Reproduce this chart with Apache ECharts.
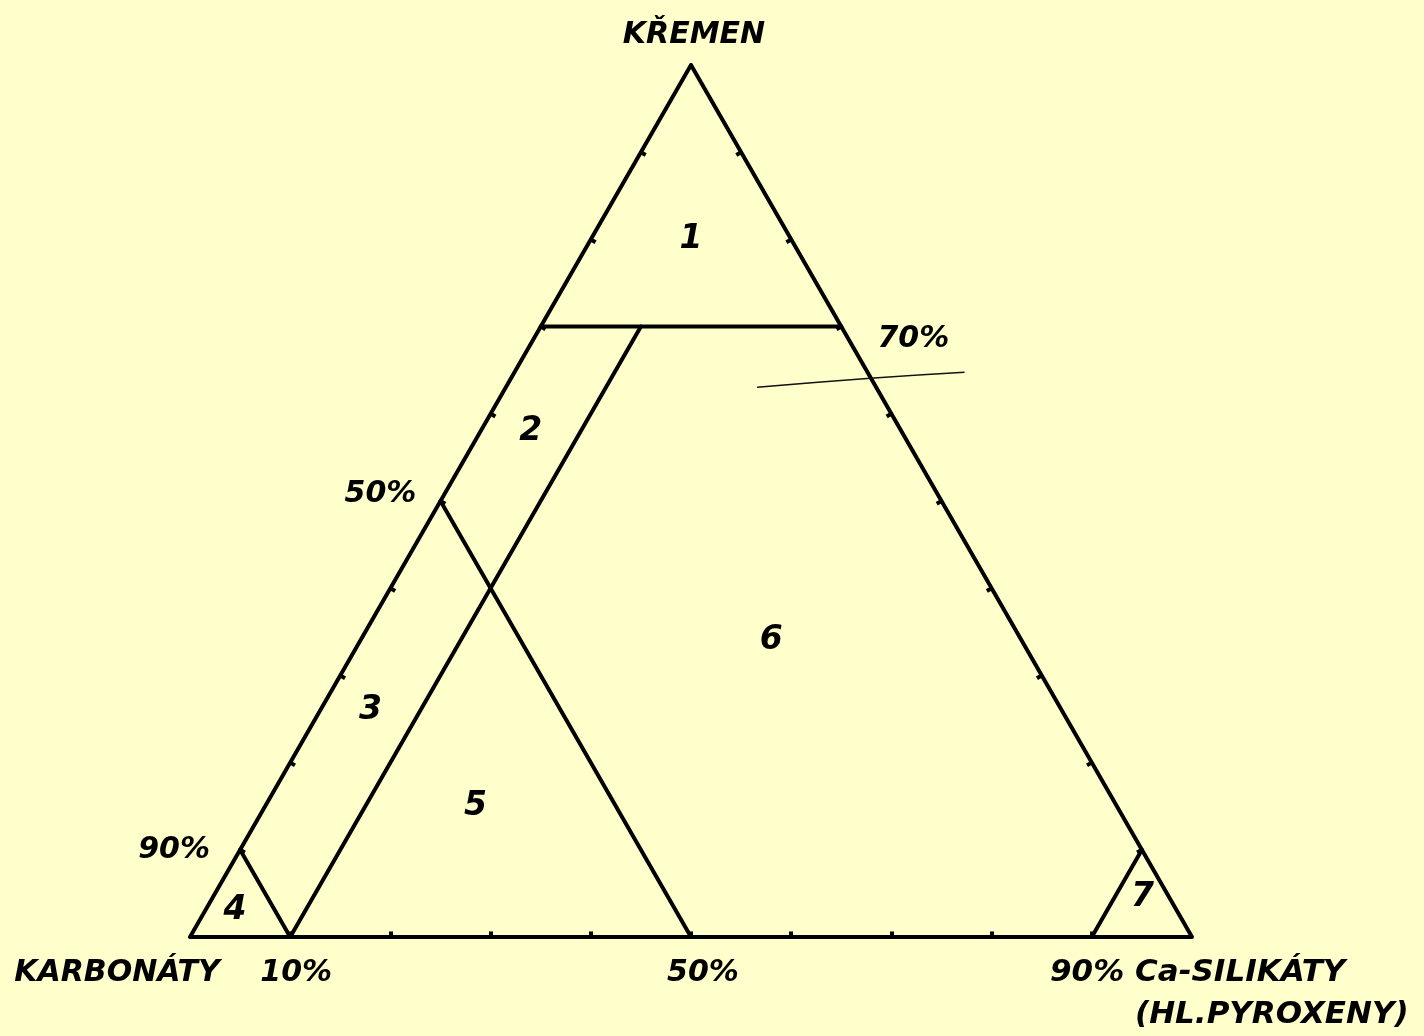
<!DOCTYPE html>
<html>
<head>
<meta charset="utf-8">
<title>Ternární diagram</title>
<script src="https://cdn.jsdelivr.net/npm/echarts@6/dist/echarts.min.js"></script>
<style>
    html, body { margin: 0; padding: 0; background: #ffffcc; }
    #chart { width: 1424px; height: 1036px; }
</style>
</head>
<body>
<div id="chart"></div>
<script>
    // ternary points are [kremen, karbonaty, ca-silikaty] in %
    const outline = [[100, 0, 0], [0, 100, 0], [0, 0, 100], [100, 0, 0]];
    const kremen70 = [[70, 30, 0], [70, 0, 30]];
    const silikaty10 = [[70, 20, 10], [0, 90, 10]];
    const karbonaty50 = [[50, 50, 0], [0, 50, 50]];
    const karbonaty90 = [[10, 90, 0], [0, 90, 10]];
    const silikaty90 = [[10, 0, 90], [0, 10, 90]];

    const tickValues = [10, 20, 30, 40, 50, 60, 70, 80, 90];

    const regionNames = ['1', '2', '3', '4', '5', '6', '7'];
    const regionCenters = [[80, 10, 10], [58, 37, 5], [26, 69, 5], [3, 94, 3], [15, 64, 21], [34, 25, 41], [4.5, 2.7, 92.8]];

    const cornerNames = ['KŘEMEN', 'KARBONÁTY', '90% Ca-SILIKÁTY', '(HL.PYROXENY)'];
    const sideMarks = ['70%', '50%', '90%', '10%', '50%'];

    // stray pencil stroke on the scan (plain x/y of the plot)
    const strayStroke = [[56.6, 54.6], [67.9, 55.5], [77.3, 56.1]];

    const H = Math.sqrt(3) / 2;
    function toXY (p) {
        return [p[2] + p[0] / 2, p[0] * H];
    }

    const segments = [outline, kremen70, silikaty10, karbonaty50, karbonaty90, silikaty90];

    // small ticks pointing inside the triangle
    const tickLen = 0.55;
    const ticks = [];
    tickValues.forEach(function (v) {
        const b = toXY([0, 100 - v, v]);
        ticks.push([b, [b[0], b[1] + tickLen]]);
        const l = toXY([v, 100 - v, 0]);
        ticks.push([l, [l[0] + tickLen * H, l[1] - tickLen * 0.5]]);
        const r = toXY([v, 0, 100 - v]);
        ticks.push([r, [r[0] - tickLen * H, r[1] - tickLen * 0.5]]);
    });

    function textItem (p, text, offset, size, align) {
        return {
            value: toXY(p),
            label: {
                show: true,
                formatter: text,
                position: [0, 0],
                offset: offset,
                fontSize: size,
                fontFamily: 'DejaVu Sans',
                fontStyle: 'italic',
                fontWeight: 'bold',
                color: '#000',
                opacity: 1,
                textBorderWidth: 0,
                align: align || 'center',
                verticalAlign: 'middle'
            }
        };
    }

    const labels = [
        textItem([100, 0, 0], cornerNames[0], [3, -30], 30),
        textItem([0, 100, 0], cornerNames[1], [-73, 36], 30),
        textItem([0, 0, 100], cornerNames[2], [-142, 36], 31, 'left'),
        textItem([0, 0, 100], cornerNames[3], [-57, 78], 31, 'left'),
        textItem([70, 0, 30], sideMarks[0], [72, 13], 30),
        textItem([50, 50, 0], sideMarks[1], [-60, -7], 30),
        textItem([10, 90, 0], sideMarks[2], [-66, 0], 30),
        textItem([0, 90, 10], sideMarks[3], [6, 36], 30),
        textItem([0, 50, 50], sideMarks[4], [12, 36], 30)
    ];
    regionCenters.forEach(function (c, i) {
        labels.push(textItem(c, regionNames[i], [0, 0], 33));
    });

    const chart = echarts.init(document.getElementById('chart'));
    chart.setOption({
        backgroundColor: '#ffffcc',
        animation: false,
        grid: {
            left: 190,
            top: 65,
            width: 1002,
            height: 872
        },
        xAxis: {
            type: 'value',
            min: 0,
            max: 100,
            show: false
        },
        yAxis: {
            type: 'value',
            min: 0,
            max: 100 * H,
            show: false
        },
        series: [
            {
                type: 'lines',
                coordinateSystem: 'cartesian2d',
                polyline: true,
                silent: true,
                lineStyle: {
                    color: '#000',
                    width: 4,
                    opacity: 1,
                    cap: 'round',
                    join: 'round'
                },
                data: segments.map(function (s) {
                    return { coords: s.map(toXY) };
                })
            },
            {
                type: 'lines',
                coordinateSystem: 'cartesian2d',
                silent: true,
                lineStyle: {
                    color: '#000',
                    width: 4,
                    opacity: 1
                },
                data: ticks.map(function (t) {
                    return { coords: t };
                })
            },
            {
                type: 'line',
                smooth: true,
                symbol: 'none',
                silent: true,
                lineStyle: {
                    color: '#111',
                    width: 1.5
                },
                data: strayStroke
            },
            {
                type: 'scatter',
                symbolSize: 0,
                silent: true,
                itemStyle: {
                    color: '#000'
                },
                data: labels
            }
        ]
    });
</script>
</body>
</html>
